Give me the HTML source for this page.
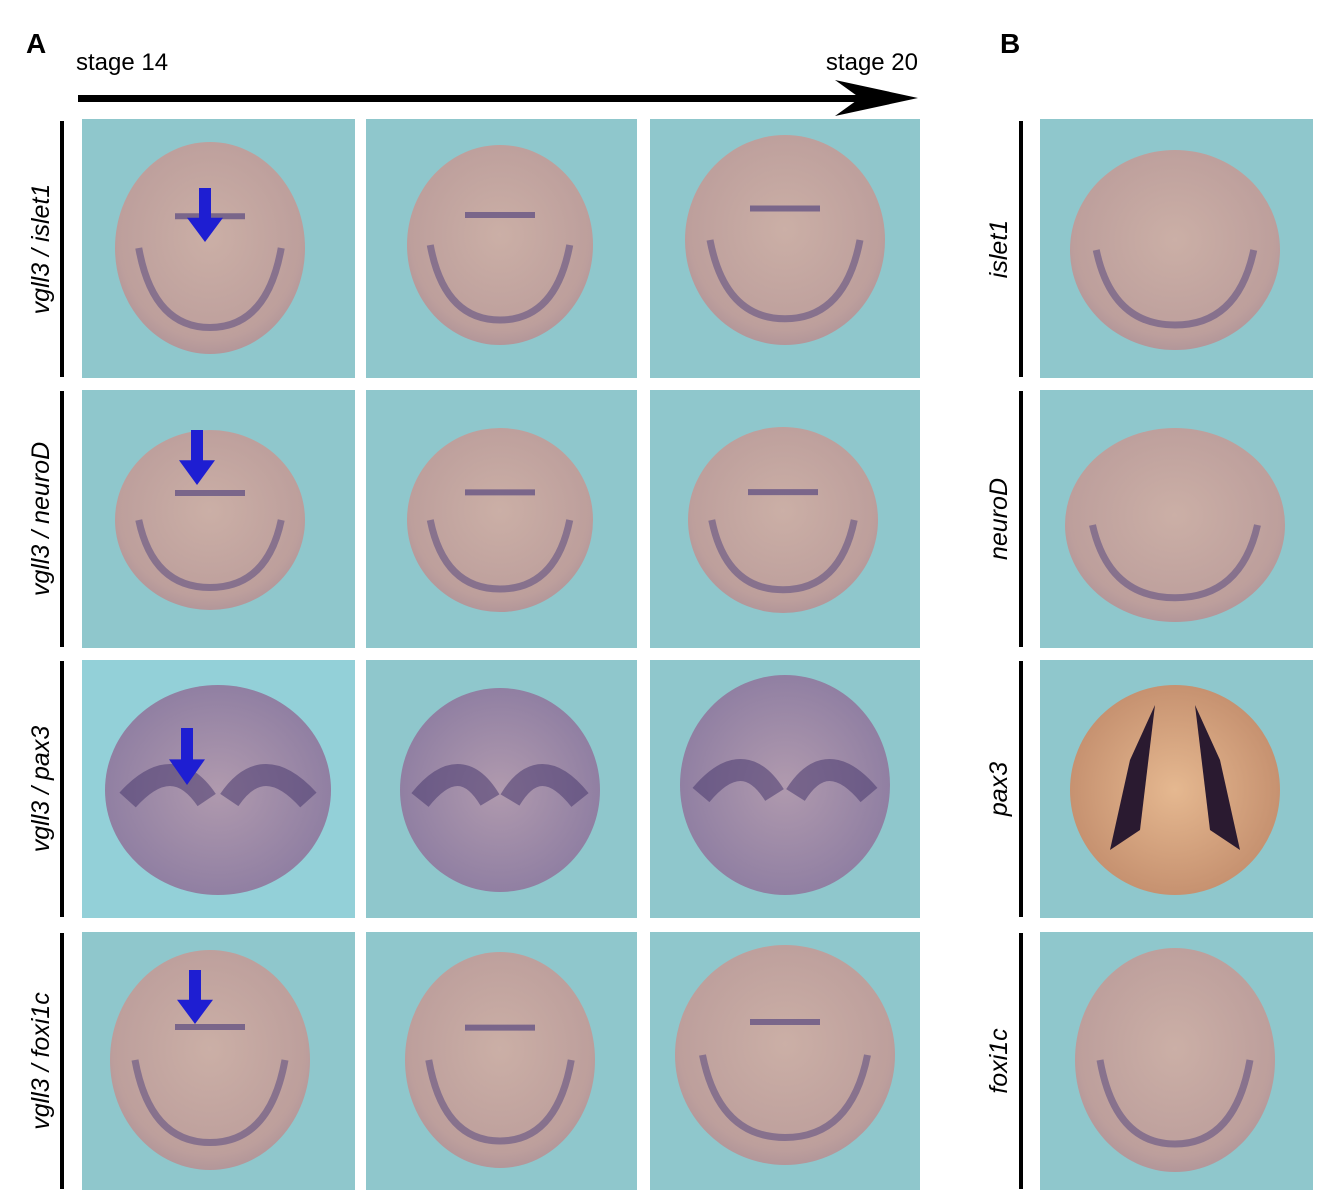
<!DOCTYPE html>
<html><head><meta charset="utf-8"><style>
html,body{margin:0;padding:0;background:#fff;width:1321px;height:1203px;overflow:hidden}
svg{display:block;font-family:"Liberation Sans",sans-serif}
</style></head><body>
<svg width="1321" height="1203" viewBox="0 0 1321 1203">
<defs>
<radialGradient id="emb" cx="0.5" cy="0.45" r="0.6"><stop offset="0" stop-color="#cbafa6"/><stop offset="0.8" stop-color="#bd9f9c"/><stop offset="1" stop-color="#ab9098"/></radialGradient>
<radialGradient id="embO" cx="0.5" cy="0.5" r="0.6"><stop offset="0" stop-color="#e5b890"/><stop offset="1" stop-color="#c08a6a"/></radialGradient>
<radialGradient id="embP" cx="0.5" cy="0.5" r="0.6"><stop offset="0" stop-color="#b09aae"/><stop offset="1" stop-color="#8a7aa0"/></radialGradient>
</defs>
<text x="26" y="53" font-size="28" font-weight="bold">A</text>
<text x="1000" y="53" font-size="28" font-weight="bold">B</text>
<text x="76" y="70" font-size="24">stage 14</text>
<text x="918" y="70" font-size="24" text-anchor="end">stage 20</text>
<g>
<rect x="78" y="95" width="790" height="7" fill="#000"/>
<polygon points="835,80 918,98 835,116 860,98" fill="#000"/>
</g>
<g id="panels"></g>
<g fill="#000">
<rect x="60" y="121" width="4" height="256"/>
<rect x="60" y="391" width="4" height="256"/>
<rect x="60" y="661" width="4" height="256"/>
<rect x="60" y="933" width="4" height="256"/>
<rect x="1019" y="121" width="4" height="256"/>
<rect x="1019" y="391" width="4" height="256"/>
<rect x="1019" y="661" width="4" height="256"/>
<rect x="1019" y="933" width="4" height="256"/>
</g>
<g font-size="25" font-style="italic" fill="#000">
<text transform="translate(49,249) rotate(-90)" text-anchor="middle">vgll3 / islet1</text>
<text transform="translate(49,519) rotate(-90)" text-anchor="middle">vgll3 / neuroD</text>
<text transform="translate(49,789) rotate(-90)" text-anchor="middle">vgll3 / pax3</text>
<text transform="translate(49,1061) rotate(-90)" text-anchor="middle">vgll3 / foxi1c</text>
<text transform="translate(1007,249) rotate(-90)" text-anchor="middle">islet1</text>
<text transform="translate(1007,519) rotate(-90)" text-anchor="middle">neuroD</text>
<text transform="translate(1007,789) rotate(-90)" text-anchor="middle">pax3</text>
<text transform="translate(1007,1061) rotate(-90)" text-anchor="middle">foxi1c</text>
</g>
</svg>
<script>
const NS="http://www.w3.org/2000/svg";
const g=document.getElementById('panels');
const colsX=[[82,355],[366,637],[650,920],[1040,1313]];
const rowsY=[[119,378],[390,648],[660,918],[932,1190]];
const embryos=[
 [[210,248,95,106,'emb'],[500,245,93,100,'emb'],[785,240,100,105,'emb'],[1175,250,105,100,'emb']],
 [[210,520,95,90,'emb'],[500,520,93,92,'emb'],[783,520,95,93,'emb'],[1175,525,110,97,'emb']],
 [[218,790,113,105,'embP'],[500,790,100,102,'embP'],[785,785,105,110,'embP'],[1175,790,105,105,'embO']],
 [[210,1060,100,110,'emb'],[500,1060,95,108,'emb'],[785,1055,110,110,'emb'],[1175,1060,100,112,'emb']]
];
function el(t,a,name){const e=document.createElementNS(NS,t);for(const k in a)e.setAttribute(k,a[k]);


g.appendChild(e);return e;}
rowsY.forEach((ry,r)=>colsX.forEach((cx,c)=>{
 el('rect',{x:cx[0],y:ry[0],width:cx[1]-cx[0],height:ry[1]-ry[0],fill:r==2&&c==0?'#93d0d8':'#8fc7cc'},'panel-r'+(r+1)+'-c'+(c+1));
 const [x,y,rx,ry2,f]=embryos[r][c];
 el('ellipse',{cx:x,cy:y,rx:rx,ry:ry2,fill:'url(#'+f+')'},'embryo-r'+(r+1)+'-c'+(c+1));
 const s='#5a4a80';
 if(r==2&&c==3){
  el('path',{d:`M${x-20},${y-85} L${x-35},${y+40} L${x-65},${y+60} L${x-45},${y-30} Z`,fill:'#2a1a30'},'stain');
  el('path',{d:`M${x+20},${y-85} L${x+35},${y+40} L${x+65},${y+60} L${x+45},${y-30} Z`,fill:'#2a1a30'},'stain');
 } else if(r==2){
  el('path',{d:`M${x-rx*0.8},${y+10} Q${x-rx*0.4},${y-40} ${x-rx*0.1},${y+10} M${x+rx*0.1},${y+10} Q${x+rx*0.4},${y-40} ${x+rx*0.8},${y+10}`,stroke:'#4a3a70',fill:'none','stroke-width':22,opacity:0.55},'stain');
 } else {
  el('path',{d:`M${x-rx*0.75},${y} Q${x-rx*0.6},${y+ry2*0.75} ${x},${y+ry2*0.75} Q${x+rx*0.6},${y+ry2*0.75} ${x+rx*0.75},${y}`,stroke:s,fill:'none','stroke-width':7,opacity:0.55},'stain');
  if(c<3) el('path',{d:`M${x-35},${y-ry2*0.3} L${x+35},${y-ry2*0.3}`,stroke:s,'stroke-width':6,opacity:0.7},'stain');
 }
}));
const arrows=[[205,188,242],[197,430,485],[187,728,785],[195,970,1024]];
arrows.forEach((a,i)=>{
 const [x,y0,y1]=a;
 el('path',{d:`M${x-6},${y0} h12 v${(y1-y0)*0.55} h12 L${x},${y1} L${x-18},${y0+(y1-y0)*0.55} h12 Z`,fill:'#1e1ed2'},'blue-arrow-'+(i+1));
});
</script>
</body></html>
